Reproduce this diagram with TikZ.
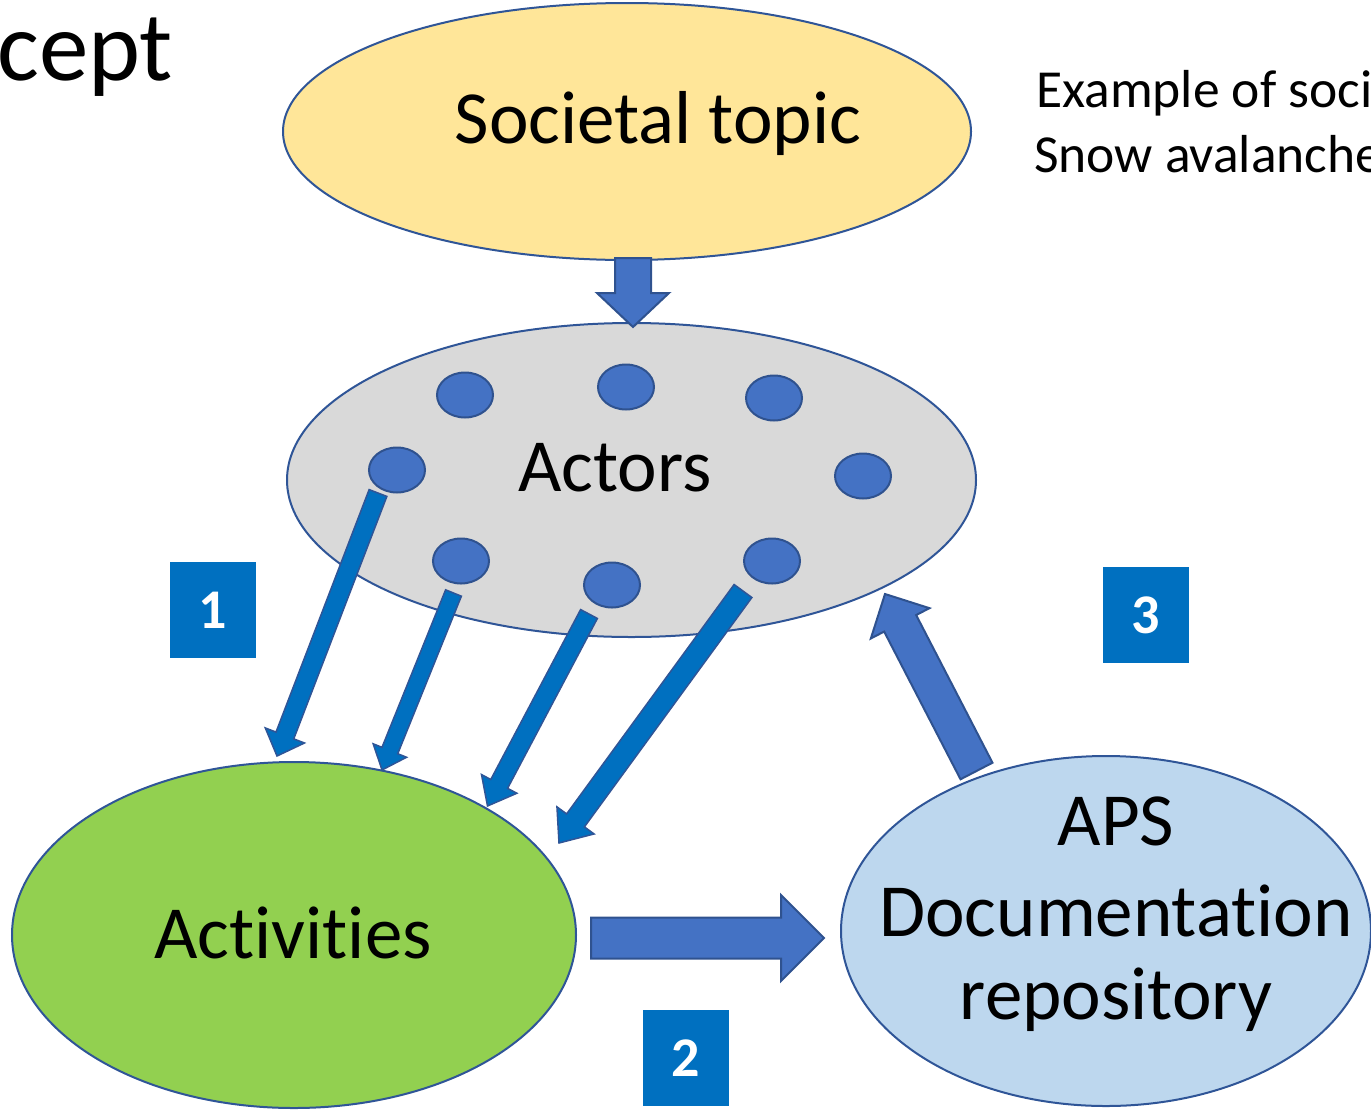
\documentclass[tikz,border=0pt]{standalone}
\usepackage{fontspec}
\setmainfont{Carlito}[Ligatures=NoCommon]
\usetikzlibrary{calc,shapes.geometric}
\definecolor{edgeblue}{HTML}{2F5597}
\definecolor{arrowedge}{HTML}{2F528F}
\definecolor{topicfill}{HTML}{FFE699}
\definecolor{actorfill}{HTML}{D9D9D9}
\definecolor{actfill}{HTML}{92D050}
\definecolor{apsfill}{HTML}{BDD7EE}
\definecolor{dotfill}{HTML}{4472C4}
\definecolor{numblue}{HTML}{0070C0}
\newcommand\blockarrow[6]{%
 \coordinate (ba@h) at ($(#3)!#6!(#2)$);
 \path[#1] ($(#2)!#4!90:(#3)$) -- ($(ba@h)!#4!-90:(#2)$) -- ($(ba@h)!#5!-90:(#2)$) -- (#3) -- ($(ba@h)!#5!90:(#2)$) -- ($(ba@h)!#4!90:(#2)$) -- ($(#2)!#4!-90:(#3)$) -- cycle;}
\tikzset{
  bigell/.style={ellipse, draw=edgeblue, line width=2pt, inner sep=0pt},
  bigtext/.style={font=\fontsize{75}{90}\selectfont, align=center, inner sep=0pt},
  dot/.style={ellipse, draw=arrowedge, line width=2pt, fill=dotfill, minimum width=56pt, minimum height=45pt, inner sep=0pt},
  numbox/.style={fill=numblue, minimum width=86pt, minimum height=96pt, inner sep=0pt, text=white, font=\fontsize{56}{60}\selectfont\bfseries},
  fatarrow/.style={fill=dotfill, draw=arrowedge, line width=2pt, line join=miter},
  thinarrow/.style={fill=numblue, draw=edgeblue, line width=1.5pt, line join=miter},
}
\begin{document}
\begin{tikzpicture}[x=1pt,y=-1pt]
\useasboundingbox (0,0) rectangle (1371,1109);
\clip (0,0) rectangle (1371,1109);
% title fragment
\node[anchor=base west, inner sep=0pt, font=\fontsize{99}{110}\selectfont] (title) at (-3,80) {cept};
% example text
\node[anchor=base west, inner sep=0pt, font=\fontsize{53.5}{60}\selectfont] (ex1) at (1036,107) {Example of soci};
\node[anchor=base west, inner sep=0pt, font=\fontsize{53.5}{60}\selectfont] (ex2) at (1034,172) {Snow avalanche};
% ellipses
\node[bigell, fill=topicfill, minimum width=688pt, minimum height=257pt] (topic) at (627,131.5) {};
\node[bigtext] (topictext) at (658,123) {Societal topic};
\node[bigell, fill=actorfill, minimum width=689pt, minimum height=314pt] (actors) at (631.5,480) {};
\node[bigtext] (actorstext) at (615,468) {Actors};
\node[bigell, fill=actfill, minimum width=564pt, minimum height=346pt] (activities) at (294,935) {};
\node[bigtext] (acttext) at (293,933) {Activities};
\node[bigell, fill=apsfill, minimum width=530pt, minimum height=350pt] (aps) at (1106,931) {};
\node[bigtext] (apstext1) at (1116,821) {APS};
\node[bigtext] (apstext2) at (1116,911) {Documentation};
\node[bigtext] (apstext3) at (1116,1000) {repository};
% dots
\node[dot] (d1) at (465,395) {};
\node[dot] (d2) at (626,387) {};
\node[dot] (d3) at (774,398) {};
\node[dot] (d4) at (397,470) {};
\node[dot] (d5) at (863,476) {};
\node[dot] (d6) at (461,561) {};
\node[dot] (d7) at (612,585) {};
\node[dot] (d8) at (772,561) {};
% number boxes
\node[numbox] (n1) at (213,610) {1};
\node[numbox] (n3) at (1146,615) {3};
\node[numbox] (n2) at (686,1058) {2};
% arrow endpoints
\coordinate (downs) at (633,258);
\coordinate (downe) at (633,327);
\coordinate (rights) at (591,938);
\coordinate (righte) at (824,938);
\coordinate (ups) at (976.5,771);
\coordinate (upe) at (885,594);
\coordinate (as) at (378,493);
\coordinate (ae) at (277,756);
\coordinate (bs) at (453.5,593);
\coordinate (be) at (382,770);
\coordinate (cs) at (589,614);
\coordinate (ce) at (487.5,806);
\coordinate (ds) at (743,591);
\coordinate (de) at (559,843);
% block arrows
\blockarrow{fatarrow}{downs}{downe}{18pt}{36pt}{34pt}
\blockarrow{fatarrow}{rights}{righte}{20.5pt}{43pt}{43pt}
\blockarrow{fatarrow}{ups}{upe}{18pt}{33pt}{33pt}
\blockarrow{thinarrow}{as}{ae}{9.5pt}{21pt}{22pt}
\blockarrow{thinarrow}{bs}{be}{8.5pt}{18pt}{21pt}
\blockarrow{thinarrow}{cs}{ce}{9.5pt}{20pt}{25pt}
\blockarrow{thinarrow}{ds}{de}{11pt}{23pt}{28pt}
\end{tikzpicture}
\end{document}
